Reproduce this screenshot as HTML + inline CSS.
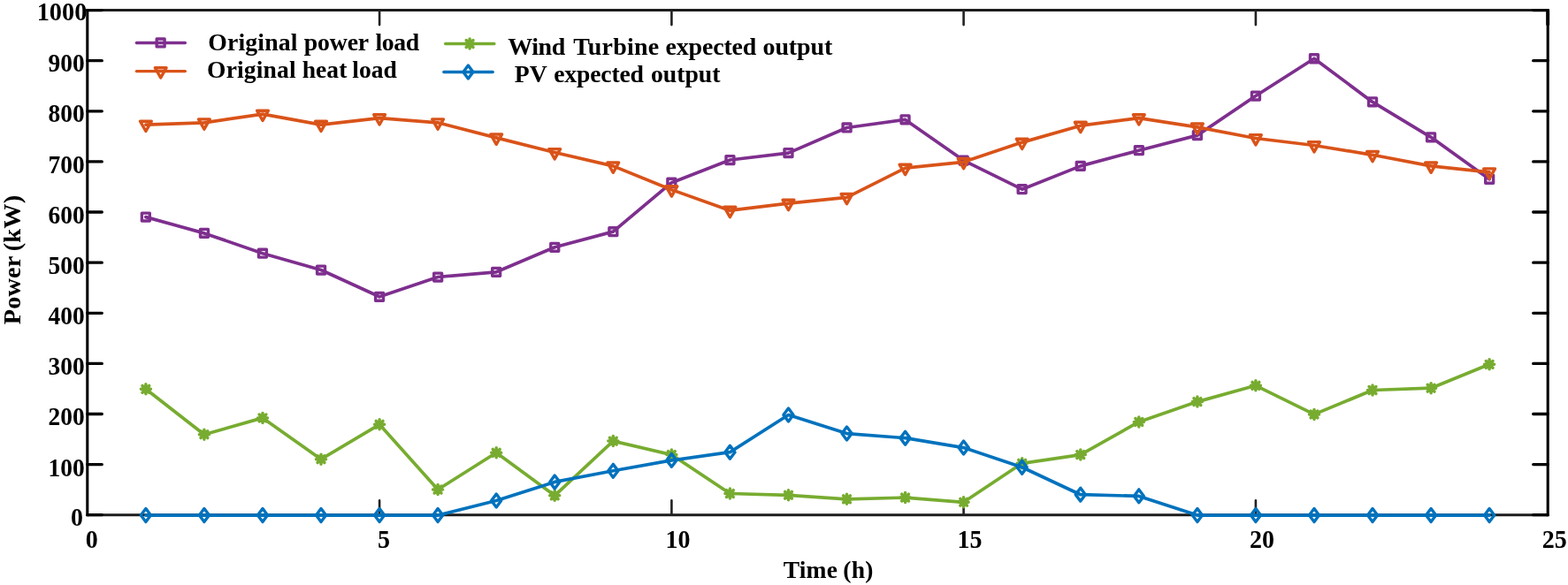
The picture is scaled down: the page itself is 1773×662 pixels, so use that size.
<!DOCTYPE html>
<html lang="en"><head><meta charset="utf-8"><title>Load and renewable output chart</title>
<style>
html,body{margin:0;padding:0;background:#fff;}
body{width:1773px;height:662px;overflow:hidden;}
svg{display:block;}
text{fill:#000;}
</style></head><body>
<svg role="img" aria-label="Power versus time chart" width="1773" height="662" viewBox="0 0 1773 662" font-family="'Liberation Serif', serif" font-weight="bold">
<rect width="1773" height="662" fill="#fff"/>
<path d="M98.8,11.6 H1750.2 M98.8,582.7 H1750.2" fill="none" stroke="#1c1c1c" stroke-width="3"/>
<path d="M98.8,10.1 V584.3 M1750.2,10.1 V584.3" fill="none" stroke="#000" stroke-width="3.1"/>
<path d="M98.8,582.7 h16.5 M1750.2,582.7 h-16.5 M98.8,525.6 h16.5 M1750.2,525.6 h-16.5 M98.8,468.5 h16.5 M1750.2,468.5 h-16.5 M98.8,411.4 h16.5 M1750.2,411.4 h-16.5 M98.8,354.3 h16.5 M1750.2,354.3 h-16.5 M98.8,297.2 h16.5 M1750.2,297.2 h-16.5 M98.8,240.0 h16.5 M1750.2,240.0 h-16.5 M98.8,182.9 h16.5 M1750.2,182.9 h-16.5 M98.8,125.8 h16.5 M1750.2,125.8 h-16.5 M98.8,68.7 h16.5 M1750.2,68.7 h-16.5 M98.8,11.6 h16.5 M1750.2,11.6 h-16.5" stroke="#000" stroke-width="3.3" stroke-linecap="round" fill="none"/>
<path d="M429.1,582.7 v-16.5 M429.1,11.6 v16.5 M759.4,582.7 v-16.5 M759.4,11.6 v16.5 M1089.6,582.7 v-16.5 M1089.6,11.6 v16.5 M1419.9,582.7 v-16.5 M1419.9,11.6 v16.5" stroke="#222" stroke-width="2.6" stroke-linecap="round" fill="none"/>
<path d="M1750.2,11.6 v17" stroke="#000" stroke-width="3.9" fill="none"/>
<text transform="translate(94.0,595.2) scale(0.93,1)" font-size="30" text-anchor="end">0</text>
<text transform="translate(95.6,538.5) scale(0.915,1)" font-size="30" text-anchor="end">100</text>
<text transform="translate(95.6,481.4) scale(0.915,1)" font-size="30" text-anchor="end">200</text>
<text transform="translate(95.6,424.3) scale(0.915,1)" font-size="30" text-anchor="end">300</text>
<text transform="translate(95.6,366.8) scale(0.915,1)" font-size="30" text-anchor="end">400</text>
<text transform="translate(95.6,310.4) scale(0.915,1)" font-size="30" text-anchor="end">500</text>
<text transform="translate(95.6,252.9) scale(0.915,1)" font-size="30" text-anchor="end">600</text>
<text transform="translate(95.6,195.6) scale(0.915,1)" font-size="30" text-anchor="end">700</text>
<text transform="translate(95.6,138.2) scale(0.915,1)" font-size="30" text-anchor="end">800</text>
<text transform="translate(95.6,80.5) scale(0.915,1)" font-size="30" text-anchor="end">900</text>
<text transform="translate(98.3,23.2) scale(0.945,1)" font-size="30" text-anchor="end">1000</text>
<text transform="translate(103.7,620.2) scale(0.95,1)" font-size="29.5" text-anchor="middle">0</text>
<text transform="translate(434.0,620.2) scale(0.95,1)" font-size="29.5" text-anchor="middle">5</text>
<text transform="translate(766.4,620.2) scale(0.95,1)" font-size="29.5" text-anchor="middle">10</text>
<text transform="translate(1096.6,620.2) scale(0.95,1)" font-size="29.5" text-anchor="middle">15</text>
<text transform="translate(1426.9,620.2) scale(0.95,1)" font-size="29.5" text-anchor="middle">20</text>
<text transform="translate(1757.8,620.2) scale(0.95,1)" font-size="29.5" text-anchor="middle">25</text>
<text transform="translate(936.6,653.7) scale(0.985,1)" font-size="28" text-anchor="middle" letter-spacing="0.2" word-spacing="-1.0">Time (h)</text>
<text transform="translate(22.8,294) rotate(-90) scale(1.01,1)" font-size="28" text-anchor="middle" letter-spacing="0.2" word-spacing="-1.6">Power (kW)</text>
<polyline points="164.9,245.6 230.9,263.9 297.0,286.7 363.0,305.5 429.1,335.8 495.1,313.5 561.2,307.8 627.2,279.8 693.3,262.1 759.4,206.7 825.4,181.0 891.5,173.1 957.5,144.5 1023.6,135.4 1089.6,181.6 1155.7,214.2 1221.8,187.9 1287.8,170.2 1353.9,153.1 1419.9,108.5 1486.0,66.3 1552.0,115.4 1618.1,155.3 1684.1,202.7" fill="none" stroke="#7E2F8E" stroke-width="3.7" stroke-linejoin="round" stroke-linecap="round"/>
<rect x="160.4" y="241.1" width="8.9" height="8.9" fill="none" stroke="#7E2F8E" stroke-width="3.4" stroke-linejoin="round"/>
<rect x="226.5" y="259.4" width="8.9" height="8.9" fill="none" stroke="#7E2F8E" stroke-width="3.4" stroke-linejoin="round"/>
<rect x="292.5" y="282.2" width="8.9" height="8.9" fill="none" stroke="#7E2F8E" stroke-width="3.4" stroke-linejoin="round"/>
<rect x="358.6" y="301.1" width="8.9" height="8.9" fill="none" stroke="#7E2F8E" stroke-width="3.4" stroke-linejoin="round"/>
<rect x="424.6" y="331.4" width="8.9" height="8.9" fill="none" stroke="#7E2F8E" stroke-width="3.4" stroke-linejoin="round"/>
<rect x="490.7" y="309.1" width="8.9" height="8.9" fill="none" stroke="#7E2F8E" stroke-width="3.4" stroke-linejoin="round"/>
<rect x="556.7" y="303.4" width="8.9" height="8.9" fill="none" stroke="#7E2F8E" stroke-width="3.4" stroke-linejoin="round"/>
<rect x="622.8" y="275.4" width="8.9" height="8.9" fill="none" stroke="#7E2F8E" stroke-width="3.4" stroke-linejoin="round"/>
<rect x="688.9" y="257.7" width="8.9" height="8.9" fill="none" stroke="#7E2F8E" stroke-width="3.4" stroke-linejoin="round"/>
<rect x="754.9" y="202.3" width="8.9" height="8.9" fill="none" stroke="#7E2F8E" stroke-width="3.4" stroke-linejoin="round"/>
<rect x="821.0" y="176.6" width="8.9" height="8.9" fill="none" stroke="#7E2F8E" stroke-width="3.4" stroke-linejoin="round"/>
<rect x="887.0" y="168.6" width="8.9" height="8.9" fill="none" stroke="#7E2F8E" stroke-width="3.4" stroke-linejoin="round"/>
<rect x="953.1" y="140.0" width="8.9" height="8.9" fill="none" stroke="#7E2F8E" stroke-width="3.4" stroke-linejoin="round"/>
<rect x="1019.1" y="130.9" width="8.9" height="8.9" fill="none" stroke="#7E2F8E" stroke-width="3.4" stroke-linejoin="round"/>
<rect x="1085.2" y="177.2" width="8.9" height="8.9" fill="none" stroke="#7E2F8E" stroke-width="3.4" stroke-linejoin="round"/>
<rect x="1151.2" y="209.7" width="8.9" height="8.9" fill="none" stroke="#7E2F8E" stroke-width="3.4" stroke-linejoin="round"/>
<rect x="1217.3" y="183.4" width="8.9" height="8.9" fill="none" stroke="#7E2F8E" stroke-width="3.4" stroke-linejoin="round"/>
<rect x="1283.4" y="165.7" width="8.9" height="8.9" fill="none" stroke="#7E2F8E" stroke-width="3.4" stroke-linejoin="round"/>
<rect x="1349.4" y="148.6" width="8.9" height="8.9" fill="none" stroke="#7E2F8E" stroke-width="3.4" stroke-linejoin="round"/>
<rect x="1415.5" y="104.1" width="8.9" height="8.9" fill="none" stroke="#7E2F8E" stroke-width="3.4" stroke-linejoin="round"/>
<rect x="1481.5" y="61.8" width="8.9" height="8.9" fill="none" stroke="#7E2F8E" stroke-width="3.4" stroke-linejoin="round"/>
<rect x="1547.6" y="110.9" width="8.9" height="8.9" fill="none" stroke="#7E2F8E" stroke-width="3.4" stroke-linejoin="round"/>
<rect x="1613.6" y="150.9" width="8.9" height="8.9" fill="none" stroke="#7E2F8E" stroke-width="3.4" stroke-linejoin="round"/>
<rect x="1679.7" y="198.3" width="8.9" height="8.9" fill="none" stroke="#7E2F8E" stroke-width="3.4" stroke-linejoin="round"/>
<polyline points="164.9,141.1 230.9,138.8 297.0,129.1 363.0,141.1 429.1,133.6 495.1,138.8 561.2,155.9 627.2,172.5 693.3,187.9 759.4,214.7 825.4,238.2 891.5,230.2 957.5,223.3 1023.6,190.2 1089.6,183.3 1155.7,161.1 1221.8,142.2 1287.8,133.6 1353.9,143.9 1419.9,156.5 1486.0,164.5 1552.0,175.3 1618.1,187.9 1684.1,194.8" fill="none" stroke="#D95319" stroke-width="3.7" stroke-linejoin="round" stroke-linecap="round"/>
<path d="M158.5,137.2 L171.3,137.2 L164.9,148.5 Z" fill="none" stroke="#D95319" stroke-width="3.4" stroke-linejoin="round"/>
<path d="M224.5,134.9 L237.3,134.9 L230.9,146.2 Z" fill="none" stroke="#D95319" stroke-width="3.4" stroke-linejoin="round"/>
<path d="M290.6,125.2 L303.4,125.2 L297.0,136.5 Z" fill="none" stroke="#D95319" stroke-width="3.4" stroke-linejoin="round"/>
<path d="M356.6,137.2 L369.4,137.2 L363.0,148.5 Z" fill="none" stroke="#D95319" stroke-width="3.4" stroke-linejoin="round"/>
<path d="M422.7,129.7 L435.5,129.7 L429.1,141.0 Z" fill="none" stroke="#D95319" stroke-width="3.4" stroke-linejoin="round"/>
<path d="M488.7,134.9 L501.5,134.9 L495.1,146.2 Z" fill="none" stroke="#D95319" stroke-width="3.4" stroke-linejoin="round"/>
<path d="M554.8,152.0 L567.6,152.0 L561.2,163.3 Z" fill="none" stroke="#D95319" stroke-width="3.4" stroke-linejoin="round"/>
<path d="M620.8,168.6 L633.6,168.6 L627.2,179.9 Z" fill="none" stroke="#D95319" stroke-width="3.4" stroke-linejoin="round"/>
<path d="M686.9,184.0 L699.7,184.0 L693.3,195.3 Z" fill="none" stroke="#D95319" stroke-width="3.4" stroke-linejoin="round"/>
<path d="M753.0,210.8 L765.8,210.8 L759.4,222.1 Z" fill="none" stroke="#D95319" stroke-width="3.4" stroke-linejoin="round"/>
<path d="M819.0,234.3 L831.8,234.3 L825.4,245.6 Z" fill="none" stroke="#D95319" stroke-width="3.4" stroke-linejoin="round"/>
<path d="M885.1,226.3 L897.9,226.3 L891.5,237.6 Z" fill="none" stroke="#D95319" stroke-width="3.4" stroke-linejoin="round"/>
<path d="M951.1,219.4 L963.9,219.4 L957.5,230.7 Z" fill="none" stroke="#D95319" stroke-width="3.4" stroke-linejoin="round"/>
<path d="M1017.2,186.3 L1030.0,186.3 L1023.6,197.6 Z" fill="none" stroke="#D95319" stroke-width="3.4" stroke-linejoin="round"/>
<path d="M1083.2,179.4 L1096.0,179.4 L1089.6,190.7 Z" fill="none" stroke="#D95319" stroke-width="3.4" stroke-linejoin="round"/>
<path d="M1149.3,157.2 L1162.1,157.2 L1155.7,168.5 Z" fill="none" stroke="#D95319" stroke-width="3.4" stroke-linejoin="round"/>
<path d="M1215.4,138.3 L1228.2,138.3 L1221.8,149.6 Z" fill="none" stroke="#D95319" stroke-width="3.4" stroke-linejoin="round"/>
<path d="M1281.4,129.7 L1294.2,129.7 L1287.8,141.0 Z" fill="none" stroke="#D95319" stroke-width="3.4" stroke-linejoin="round"/>
<path d="M1347.5,140.0 L1360.3,140.0 L1353.9,151.3 Z" fill="none" stroke="#D95319" stroke-width="3.4" stroke-linejoin="round"/>
<path d="M1413.5,152.6 L1426.3,152.6 L1419.9,163.9 Z" fill="none" stroke="#D95319" stroke-width="3.4" stroke-linejoin="round"/>
<path d="M1479.6,160.6 L1492.4,160.6 L1486.0,171.9 Z" fill="none" stroke="#D95319" stroke-width="3.4" stroke-linejoin="round"/>
<path d="M1545.6,171.4 L1558.4,171.4 L1552.0,182.7 Z" fill="none" stroke="#D95319" stroke-width="3.4" stroke-linejoin="round"/>
<path d="M1611.7,184.0 L1624.5,184.0 L1618.1,195.3 Z" fill="none" stroke="#D95319" stroke-width="3.4" stroke-linejoin="round"/>
<path d="M1677.7,190.9 L1690.5,190.9 L1684.1,202.2 Z" fill="none" stroke="#D95319" stroke-width="3.4" stroke-linejoin="round"/>
<polyline points="164.9,440.3 230.9,491.7 297.0,472.9 363.0,519.7 429.1,480.3 495.1,554.0 561.2,512.3 627.2,560.8 693.3,499.1 759.4,514.6 825.4,558.5 891.5,560.3 957.5,564.8 1023.6,563.1 1089.6,568.3 1155.7,524.3 1221.8,514.6 1287.8,477.4 1353.9,454.6 1419.9,436.3 1486.0,468.9 1552.0,441.5 1618.1,439.2 1684.1,412.3" fill="none" stroke="#77AC30" stroke-width="3.7" stroke-linejoin="round" stroke-linecap="round"/>
<path d="M159.4,440.3 L170.4,440.3 M161.0,436.4 L168.7,444.2 M164.9,434.8 L164.9,445.8 M168.7,436.4 L161.0,444.2" fill="none" stroke="#77AC30" stroke-width="3.5" stroke-linecap="round"/>
<path d="M225.4,491.7 L236.4,491.7 M227.0,487.8 L234.8,495.6 M230.9,486.2 L230.9,497.2 M234.8,487.8 L227.0,495.6" fill="none" stroke="#77AC30" stroke-width="3.5" stroke-linecap="round"/>
<path d="M291.5,472.9 L302.5,472.9 M293.1,469.0 L300.9,476.8 M297.0,467.4 L297.0,478.4 M300.9,469.0 L293.1,476.8" fill="none" stroke="#77AC30" stroke-width="3.5" stroke-linecap="round"/>
<path d="M357.5,519.7 L368.5,519.7 M359.1,515.8 L366.9,523.6 M363.0,514.2 L363.0,525.2 M366.9,515.8 L359.1,523.6" fill="none" stroke="#77AC30" stroke-width="3.5" stroke-linecap="round"/>
<path d="M423.6,480.3 L434.6,480.3 M425.2,476.4 L433.0,484.2 M429.1,474.8 L429.1,485.8 M433.0,476.4 L425.2,484.2" fill="none" stroke="#77AC30" stroke-width="3.5" stroke-linecap="round"/>
<path d="M489.6,554.0 L500.6,554.0 M491.2,550.1 L499.0,557.9 M495.1,548.5 L495.1,559.5 M499.0,550.1 L491.2,557.9" fill="none" stroke="#77AC30" stroke-width="3.5" stroke-linecap="round"/>
<path d="M555.7,512.3 L566.7,512.3 M557.3,508.4 L565.1,516.2 M561.2,506.8 L561.2,517.8 M565.1,508.4 L557.3,516.2" fill="none" stroke="#77AC30" stroke-width="3.5" stroke-linecap="round"/>
<path d="M621.7,560.8 L632.7,560.8 M623.4,556.9 L631.1,564.7 M627.2,555.3 L627.2,566.3 M631.1,556.9 L623.4,564.7" fill="none" stroke="#77AC30" stroke-width="3.5" stroke-linecap="round"/>
<path d="M687.8,499.1 L698.8,499.1 M689.4,495.3 L697.2,503.0 M693.3,493.6 L693.3,504.6 M697.2,495.3 L689.4,503.0" fill="none" stroke="#77AC30" stroke-width="3.5" stroke-linecap="round"/>
<path d="M753.9,514.6 L764.9,514.6 M755.5,510.7 L763.2,518.5 M759.4,509.1 L759.4,520.1 M763.2,510.7 L755.5,518.5" fill="none" stroke="#77AC30" stroke-width="3.5" stroke-linecap="round"/>
<path d="M819.9,558.5 L830.9,558.5 M821.5,554.7 L829.3,562.4 M825.4,553.0 L825.4,564.0 M829.3,554.7 L821.5,562.4" fill="none" stroke="#77AC30" stroke-width="3.5" stroke-linecap="round"/>
<path d="M886.0,560.3 L897.0,560.3 M887.6,556.4 L895.4,564.1 M891.5,554.8 L891.5,565.8 M895.4,556.4 L887.6,564.1" fill="none" stroke="#77AC30" stroke-width="3.5" stroke-linecap="round"/>
<path d="M952.0,564.8 L963.0,564.8 M953.6,560.9 L961.4,568.7 M957.5,559.3 L957.5,570.3 M961.4,560.9 L953.6,568.7" fill="none" stroke="#77AC30" stroke-width="3.5" stroke-linecap="round"/>
<path d="M1018.1,563.1 L1029.1,563.1 M1019.7,559.2 L1027.5,567.0 M1023.6,557.6 L1023.6,568.6 M1027.5,559.2 L1019.7,567.0" fill="none" stroke="#77AC30" stroke-width="3.5" stroke-linecap="round"/>
<path d="M1084.1,568.3 L1095.1,568.3 M1085.8,564.4 L1093.5,572.1 M1089.6,562.8 L1089.6,573.8 M1093.5,564.4 L1085.8,572.1" fill="none" stroke="#77AC30" stroke-width="3.5" stroke-linecap="round"/>
<path d="M1150.2,524.3 L1161.2,524.3 M1151.8,520.4 L1159.6,528.2 M1155.7,518.8 L1155.7,529.8 M1159.6,520.4 L1151.8,528.2" fill="none" stroke="#77AC30" stroke-width="3.5" stroke-linecap="round"/>
<path d="M1216.3,514.6 L1227.3,514.6 M1217.9,510.7 L1225.6,518.5 M1221.8,509.1 L1221.8,520.1 M1225.6,510.7 L1217.9,518.5" fill="none" stroke="#77AC30" stroke-width="3.5" stroke-linecap="round"/>
<path d="M1282.3,477.4 L1293.3,477.4 M1283.9,473.6 L1291.7,481.3 M1287.8,471.9 L1287.8,482.9 M1291.7,473.6 L1283.9,481.3" fill="none" stroke="#77AC30" stroke-width="3.5" stroke-linecap="round"/>
<path d="M1348.4,454.6 L1359.4,454.6 M1350.0,450.7 L1357.8,458.5 M1353.9,449.1 L1353.9,460.1 M1357.8,450.7 L1350.0,458.5" fill="none" stroke="#77AC30" stroke-width="3.5" stroke-linecap="round"/>
<path d="M1414.4,436.3 L1425.4,436.3 M1416.0,432.4 L1423.8,440.2 M1419.9,430.8 L1419.9,441.8 M1423.8,432.4 L1416.0,440.2" fill="none" stroke="#77AC30" stroke-width="3.5" stroke-linecap="round"/>
<path d="M1480.5,468.9 L1491.5,468.9 M1482.1,465.0 L1489.9,472.8 M1486.0,463.4 L1486.0,474.4 M1489.9,465.0 L1482.1,472.8" fill="none" stroke="#77AC30" stroke-width="3.5" stroke-linecap="round"/>
<path d="M1546.5,441.5 L1557.5,441.5 M1548.1,437.6 L1555.9,445.4 M1552.0,436.0 L1552.0,447.0 M1555.9,437.6 L1548.1,445.4" fill="none" stroke="#77AC30" stroke-width="3.5" stroke-linecap="round"/>
<path d="M1612.6,439.2 L1623.6,439.2 M1614.2,435.3 L1622.0,443.1 M1618.1,433.7 L1618.1,444.7 M1622.0,435.3 L1614.2,443.1" fill="none" stroke="#77AC30" stroke-width="3.5" stroke-linecap="round"/>
<path d="M1678.6,412.3 L1689.6,412.3 M1680.3,408.5 L1688.0,416.2 M1684.1,406.8 L1684.1,417.8 M1688.0,408.5 L1680.3,416.2" fill="none" stroke="#77AC30" stroke-width="3.5" stroke-linecap="round"/>
<polyline points="164.9,583.1 230.9,583.1 297.0,583.1 363.0,583.1 429.1,583.1 495.1,583.1 561.2,566.5 627.2,545.4 693.3,532.8 759.4,520.9 825.4,511.7 891.5,469.5 957.5,490.6 1023.6,495.7 1089.6,506.6 1155.7,528.8 1221.8,559.7 1287.8,561.4 1353.9,583.1 1419.9,583.1 1486.0,583.1 1552.0,583.1 1618.1,583.1 1684.1,583.1" fill="none" stroke="#0072BD" stroke-width="3.7" stroke-linejoin="round" stroke-linecap="round"/>
<path d="M164.9,575.6 L170.4,583.1 L164.9,590.6 L159.3,583.1 Z" fill="none" stroke="#0072BD" stroke-width="3.4" stroke-linejoin="round"/>
<path d="M230.9,575.6 L236.5,583.1 L230.9,590.6 L225.4,583.1 Z" fill="none" stroke="#0072BD" stroke-width="3.4" stroke-linejoin="round"/>
<path d="M297.0,575.6 L302.5,583.1 L297.0,590.6 L291.4,583.1 Z" fill="none" stroke="#0072BD" stroke-width="3.4" stroke-linejoin="round"/>
<path d="M363.0,575.6 L368.6,583.1 L363.0,590.6 L357.5,583.1 Z" fill="none" stroke="#0072BD" stroke-width="3.4" stroke-linejoin="round"/>
<path d="M429.1,575.6 L434.6,583.1 L429.1,590.6 L423.5,583.1 Z" fill="none" stroke="#0072BD" stroke-width="3.4" stroke-linejoin="round"/>
<path d="M495.1,575.6 L500.7,583.1 L495.1,590.6 L489.6,583.1 Z" fill="none" stroke="#0072BD" stroke-width="3.4" stroke-linejoin="round"/>
<path d="M561.2,559.1 L566.7,566.5 L561.2,574.0 L555.6,566.5 Z" fill="none" stroke="#0072BD" stroke-width="3.4" stroke-linejoin="round"/>
<path d="M627.2,538.0 L632.8,545.4 L627.2,552.9 L621.7,545.4 Z" fill="none" stroke="#0072BD" stroke-width="3.4" stroke-linejoin="round"/>
<path d="M693.3,525.4 L698.9,532.8 L693.3,540.3 L687.8,532.8 Z" fill="none" stroke="#0072BD" stroke-width="3.4" stroke-linejoin="round"/>
<path d="M759.4,513.4 L764.9,520.9 L759.4,528.3 L753.8,520.9 Z" fill="none" stroke="#0072BD" stroke-width="3.4" stroke-linejoin="round"/>
<path d="M825.4,504.3 L831.0,511.7 L825.4,519.2 L819.9,511.7 Z" fill="none" stroke="#0072BD" stroke-width="3.4" stroke-linejoin="round"/>
<path d="M891.5,462.0 L897.0,469.5 L891.5,476.9 L885.9,469.5 Z" fill="none" stroke="#0072BD" stroke-width="3.4" stroke-linejoin="round"/>
<path d="M957.5,483.1 L963.1,490.6 L957.5,498.0 L952.0,490.6 Z" fill="none" stroke="#0072BD" stroke-width="3.4" stroke-linejoin="round"/>
<path d="M1023.6,488.3 L1029.1,495.7 L1023.6,503.2 L1018.0,495.7 Z" fill="none" stroke="#0072BD" stroke-width="3.4" stroke-linejoin="round"/>
<path d="M1089.6,499.1 L1095.2,506.6 L1089.6,514.0 L1084.1,506.6 Z" fill="none" stroke="#0072BD" stroke-width="3.4" stroke-linejoin="round"/>
<path d="M1155.7,521.4 L1161.2,528.8 L1155.7,536.3 L1150.1,528.8 Z" fill="none" stroke="#0072BD" stroke-width="3.4" stroke-linejoin="round"/>
<path d="M1221.8,552.2 L1227.3,559.7 L1221.8,567.1 L1216.2,559.7 Z" fill="none" stroke="#0072BD" stroke-width="3.4" stroke-linejoin="round"/>
<path d="M1287.8,553.9 L1293.4,561.4 L1287.8,568.8 L1282.3,561.4 Z" fill="none" stroke="#0072BD" stroke-width="3.4" stroke-linejoin="round"/>
<path d="M1353.9,575.6 L1359.4,583.1 L1353.9,590.6 L1348.3,583.1 Z" fill="none" stroke="#0072BD" stroke-width="3.4" stroke-linejoin="round"/>
<path d="M1419.9,575.6 L1425.5,583.1 L1419.9,590.6 L1414.4,583.1 Z" fill="none" stroke="#0072BD" stroke-width="3.4" stroke-linejoin="round"/>
<path d="M1486.0,575.6 L1491.5,583.1 L1486.0,590.6 L1480.4,583.1 Z" fill="none" stroke="#0072BD" stroke-width="3.4" stroke-linejoin="round"/>
<path d="M1552.0,575.6 L1557.6,583.1 L1552.0,590.6 L1546.5,583.1 Z" fill="none" stroke="#0072BD" stroke-width="3.4" stroke-linejoin="round"/>
<path d="M1618.1,575.6 L1623.6,583.1 L1618.1,590.6 L1612.5,583.1 Z" fill="none" stroke="#0072BD" stroke-width="3.4" stroke-linejoin="round"/>
<path d="M1684.1,575.6 L1689.7,583.1 L1684.1,590.6 L1678.6,583.1 Z" fill="none" stroke="#0072BD" stroke-width="3.4" stroke-linejoin="round"/>
<line x1="154.4" y1="48.5" x2="209.4" y2="48.5" stroke="#7E2F8E" stroke-width="3.3" stroke-linecap="round"/><rect x="177.2" y="44.0" width="8.9" height="8.9" fill="none" stroke="#7E2F8E" stroke-width="3.4" stroke-linejoin="round"/><text transform="translate(235.3,57.2) scale(1.03,1)" font-size="27" word-spacing="-1.1" xml:space="preserve"><tspan letter-spacing="0.120">Original </tspan><tspan letter-spacing="-0.171" dx="1.17">power </tspan><tspan letter-spacing="-0.430" dx="2.23">load</tspan></text>
<line x1="154.4" y1="80.6" x2="209.4" y2="80.6" stroke="#D95319" stroke-width="3.3" stroke-linecap="round"/><path d="M175.3,76.7 L188.1,76.7 L181.7,88.0 Z" fill="none" stroke="#D95319" stroke-width="3.4" stroke-linejoin="round"/><text transform="translate(234.1,88.2) scale(1.022,1)" font-size="27" word-spacing="-1.1" xml:space="preserve"><tspan letter-spacing="0.120">Original </tspan><tspan letter-spacing="0.006" dx="1.17">heat </tspan><tspan letter-spacing="-0.059" dx="0.23">load</tspan></text>
<line x1="503.6" y1="49.5" x2="558.9" y2="49.5" stroke="#77AC30" stroke-width="3.3" stroke-linecap="round"/><path d="M525.6,49.5 L536.6,49.5 M527.2,45.6 L535.0,53.4 M531.1,44.0 L531.1,55.0 M535.0,45.6 L527.2,53.4" fill="none" stroke="#77AC30" stroke-width="3.5" stroke-linecap="round"/><text transform="translate(574.2,62.0) scale(1.037,1)" font-size="27" word-spacing="-1.1" xml:space="preserve"><tspan letter-spacing="-0.426">Wind </tspan><tspan letter-spacing="0.249" dx="3.89">Turbine </tspan><tspan letter-spacing="-0.204" dx="0.90">expected </tspan><tspan letter-spacing="-0.131" dx="1.76">output</tspan></text>
<line x1="501.8" y1="81.5" x2="557.2" y2="81.5" stroke="#0072BD" stroke-width="3.3" stroke-linecap="round"/><path d="M529.4,74.0 L534.9,81.5 L529.4,89.0 L523.9,81.5 Z" fill="none" stroke="#0072BD" stroke-width="3.4" stroke-linejoin="round"/><text transform="translate(581.8,93.1) scale(1.027,1)" font-size="27" word-spacing="-1.1" xml:space="preserve"><tspan letter-spacing="0.120">PV </tspan><tspan letter-spacing="-0.172" dx="1.66">expected </tspan><tspan letter-spacing="0.013" dx="2.34">output</tspan></text>
</svg>
</body></html>
